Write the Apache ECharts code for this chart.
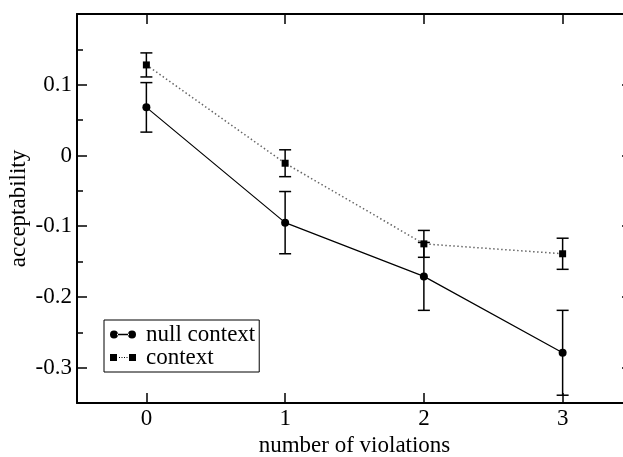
<!DOCTYPE html>
<html>
<head>
<meta charset="utf-8">
<script src="https://cdn.jsdelivr.net/npm/echarts@6/dist/echarts.min.js"></script>
<style>
html,body{margin:0;padding:0;background:#fff;}
#chart{width:623px;height:457px;}
</style>
</head>
<body>
<div id="chart"></div>
<script>
// ---- data ----
const violations = [0, 1, 2, 3];
const nullContext = [0.068, -0.095, -0.171, -0.279];
const nullContextErr = [0.035, 0.044, 0.048, 0.060];
const context = [0.128, -0.011, -0.125, -0.139];
const contextErr = [0.017, 0.019, 0.019, 0.022];
const xTicks = [0, 1, 2, 3];
const yTicks = [-0.3, -0.2, -0.1, 0, 0.1];
const yMinorTicks = [-0.25, -0.15, -0.05, 0.05, 0.15];
const xName = 'number of violations';
const yName = 'acceptability';
const seriesNames = ['null context', 'context'];

const FONT = '"Liberation Serif", "DejaVu Serif", serif';
const chart = echarts.init(document.getElementById('chart'), null, {renderer: 'canvas'});

function errData(xs, ys, es) {
  return xs.map((x, i) => [x, ys[i] - es[i], ys[i] + es[i]]);
}
function errRender(params, api) {
  const x = api.value(0), lo = api.value(1), hi = api.value(2);
  const p1 = api.coord([x, hi]), p2 = api.coord([x, lo]);
  const w = 6;
  const st = {stroke: '#000', lineWidth: 1.5};
  return {type: 'group', children: [
    {type: 'line', shape: {x1: p1[0], y1: p1[1], x2: p2[0], y2: p2[1]}, style: st},
    {type: 'line', shape: {x1: p1[0] - w, y1: p1[1], x2: p1[0] + w, y2: p1[1]}, style: st},
    {type: 'line', shape: {x1: p2[0] - w, y1: p2[1], x2: p2[0] + w, y2: p2[1]}, style: st}
  ]};
}

const iconNull = 'path://M0,4 A4,4 0 1,0 8,4 A4,4 0 1,0 0,4 Z M7,3.3 L19,3.3 L19,4.7 L7,4.7 Z M18,4 A4,4 0 1,0 26,4 A4,4 0 1,0 18,4 Z';
const iconCtx = 'path://M0,0.5 L7,0.5 L7,7.5 L0,7.5 Z M9,3.5 L10,3.5 L10,4.5 L9,4.5 Z M11.5,3.5 L12.5,3.5 L12.5,4.5 L11.5,4.5 Z M14,3.5 L15,3.5 L15,4.5 L14,4.5 Z M16.5,3.5 L17.5,3.5 L17.5,4.5 L16.5,4.5 Z M19,0.5 L26,0.5 L26,7.5 L19,7.5 Z M0,0 L0.01,0 L0.01,8 L0,8 Z';

const axisLine = {show: true, onZero: false, lineStyle: {color: '#000', width: 2}};
const noLine = {show: false, onZero: false};
const labelStyle = {color: '#000', fontFamily: FONT, fontSize: 23};
const tickStyle = {color: '#000', width: 1.5};

const option = {
  animation: false,
  backgroundColor: '#fff',
  grid: {left: 77, top: 14, right: -9, bottom: 54, containLabel: false, outerBoundsMode: 'none'},
  legend: {
    left: 104, top: 320, orient: 'vertical',
    padding: [3, 4, 3, 6], itemGap: 0, itemWidth: 26, itemHeight: 8,
    borderColor: '#000', borderWidth: 1, borderRadius: 0, backgroundColor: '#fff',
    textStyle: {color: '#000', fontFamily: FONT, fontSize: 23, lineHeight: 20, padding: [0, 0, 0, 5]},
    data: [{name: seriesNames[0], icon: iconNull}, {name: seriesNames[1], icon: iconCtx}]
  },
  xAxis: [
    {type: 'value', min: -0.5, max: 3.5, position: 'bottom',
     name: xName, nameLocation: 'middle', nameGap: 30,
     nameTextStyle: {color: '#000', fontFamily: FONT, fontSize: 23},
     axisLine: axisLine,
     axisTick: {show: true, inside: true, length: 10, customValues: xTicks, lineStyle: tickStyle},
     axisLabel: {show: true, customValues: xTicks, margin: 4, ...labelStyle},
     splitLine: {show: false}},
    {type: 'value', min: -0.5, max: 3.5, position: 'top',
     axisLine: axisLine,
     axisTick: {show: true, inside: true, length: 10, customValues: xTicks, lineStyle: tickStyle},
     axisLabel: {show: false}, splitLine: {show: false}}
  ],
  yAxis: [
    {type: 'value', min: -0.35, max: 0.2, position: 'left',
     name: yName, nameLocation: 'middle', nameGap: 47, nameRotate: 90, nameMoveOverlap: false,
     nameTextStyle: {color: '#000', fontFamily: FONT, fontSize: 23},
     axisLine: axisLine,
     axisTick: {show: true, inside: true, length: 10, customValues: yTicks, lineStyle: tickStyle},
     axisLabel: {show: true, customValues: yTicks, margin: 5, formatter: v => String(Math.round(v * 10) / 10), ...labelStyle},
     splitLine: {show: false}},
    {type: 'value', min: -0.35, max: 0.2, position: 'left',
     axisLine: noLine,
     axisTick: {show: true, inside: true, length: 6, customValues: yMinorTicks, lineStyle: tickStyle},
     axisLabel: {show: false}, splitLine: {show: false}},
    {type: 'value', min: -0.35, max: 0.2, position: 'right',
     axisLine: axisLine,
     axisTick: {show: true, inside: true, length: 10, customValues: yTicks, lineStyle: tickStyle},
     axisLabel: {show: false}, splitLine: {show: false}},
    {type: 'value', min: -0.35, max: 0.2, position: 'right',
     axisLine: noLine,
     axisTick: {show: true, inside: true, length: 6, customValues: yMinorTicks, lineStyle: tickStyle},
     axisLabel: {show: false}, splitLine: {show: false}}
  ],
  series: [
    {type: 'custom', name: 'errNull', renderItem: errRender, data: errData(violations, nullContext, nullContextErr), z: 1, silent: true},
    {type: 'custom', name: 'errCtx', renderItem: errRender, data: errData(violations, context, contextErr), z: 1, silent: true},
    {type: 'line', name: seriesNames[0], data: violations.map((x, i) => [x, nullContext[i]]),
     symbol: 'circle', symbolSize: 8, color: '#000',
     itemStyle: {color: '#000'}, lineStyle: {color: '#000', width: 1.2, type: 'solid'}, z: 3},
    {type: 'line', name: seriesNames[1], data: violations.map((x, i) => [x, context[i]]),
     symbol: 'rect', symbolSize: 7, color: '#000',
     itemStyle: {color: '#000'}, lineStyle: {color: '#666', width: 1.5, type: [1.5, 2.5]}, z: 2}
  ]
};
chart.setOption(option);
</script>
</body>
</html>
